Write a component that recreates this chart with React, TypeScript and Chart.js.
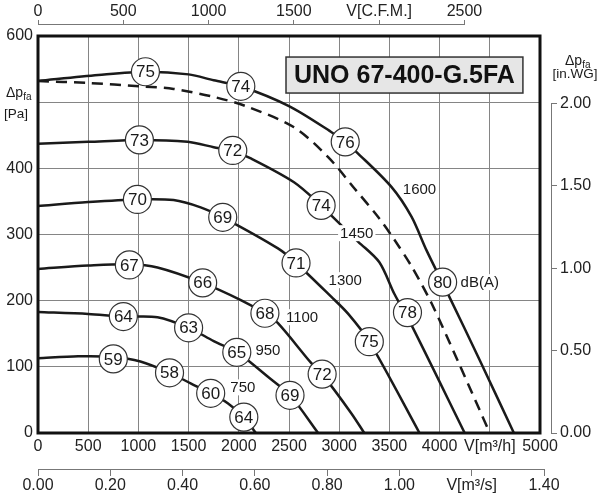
import { useEffect, useRef } from "react";
import { Chart, registerables } from "chart.js";

Chart.register(...registerables);

const FONT = "'Liberation Sans', Arial, Helvetica, sans-serif";
const INK = "#1a1a1a";
const GRID = "#858585";
const AXIS = "#777";

// fan curves: flow [m3/h] vs pressure [Pa]
const FLOW_1600 = [0, 600, 1070, 1500, 1750, 2020, 2500, 2920, 3060, 3170, 3520, 3720, 3870, 4090, 4400, 4740];
const PA_1600 = [532, 541, 546, 542, 533, 524, 494, 455, 440, 425, 372, 327, 276, 208, 110, 0];
const FLOW_LIMIT = [0, 500, 1020, 1350, 1750, 2070, 2550, 2890, 3150, 3390, 3550, 3720, 3920, 4190, 4500];
const PA_LIMIT = [532, 529, 524, 520, 508, 494, 462, 417, 370, 326, 292, 252, 196, 106, 0];
const FLOW_1450 = [0, 500, 1030, 1490, 1750, 1940, 2120, 2550, 2820, 2920, 3190, 3400, 3550, 3710, 4250];
const PA_1450 = [437, 440, 443, 440, 432, 426, 415, 379, 344, 329, 289, 258, 210, 166, 0];
const FLOW_1300 = [0, 500, 990, 1350, 1620, 1840, 2390, 2570, 2920, 3090, 3300, 3800];
const PA_1300 = [343, 349, 353, 352, 341, 326, 279, 257, 206, 180, 138, 0];
const FLOW_1100 = [0, 500, 910, 1190, 1640, 2020, 2260, 2390, 2720, 2830, 3120, 3250];
const PA_1100 = [248, 253, 255, 250, 227, 201, 181, 166, 106, 89, 30, 0];
const FLOW_950 = [0, 500, 850, 1190, 1500, 1750, 1980, 2090, 2290, 2510, 2790];
const PA_950 = [183, 180, 176, 175, 159, 139, 122, 110, 85, 57, 0];
const FLOW_750 = [0, 400, 750, 1020, 1310, 1520, 1720, 1890, 2050, 2170];
const PA_750 = [113, 116, 115, 108, 91, 75, 60, 45, 24, 0];

// sound level markers dB(A)
const CIRCLE_FLOW = [1070, 2020, 3060, 4030, 1010, 1940, 2820, 3680, 990, 1840, 2570, 3300, 910, 1640, 2260, 2830, 850, 1500, 1980, 2510, 750, 1310, 1720, 2050];
const CIRCLE_PA = [546, 524, 440, 228, 443, 427, 344, 182, 353, 326, 257, 138, 254, 227, 181, 89, 176, 159, 122, 57, 112, 91, 60, 24];
const CIRCLE_DB = [75, 74, 76, 80, 73, 72, 74, 78, 70, 69, 71, 75, 67, 66, 68, 72, 64, 63, 65, 69, 59, 58, 60, 64];

// rpm labels
const SPEED_TEXT = ["1600", "1450", "1300", "1100", "950", "750", "dB(A)"];
const SPEED_FLOW = [3800, 3175, 3060, 2630, 2290, 2040, 4400];
const SPEED_PA = [369, 302, 231, 175, 125, 69, 228];

const TITLE = "UNO 67-400-G.5FA";
const CFM_TICKS = [0, 500, 1000, 1500, 2000, 2500];
const M3S_TICKS = [0, 0.2, 0.4, 0.6, 0.8, 1.0, 1.2, 1.4];
const INWG_TICKS = [0, 0.5, 1.0, 1.5, 2.0];

const M3H_PER_CFM = 1.69901;
const PA_PER_INWG = 249.089;

const toPts = (xs: number[], ys: number[]) => xs.map((x, i) => ({ x, y: ys[i] }));

const overlay = {
  id: "overlay",
  afterDatasetsDraw(chart: any) {
    const { ctx, chartArea: a, scales } = chart;
    const x = scales.x;
    const y = scales.y;
    ctx.save();
    ctx.textAlign = "center";
    ctx.textBaseline = "middle";

    // numbers in circles
    ctx.font = `17px ${FONT}`;
    ctx.fillStyle = INK;
    chart.getDatasetMeta(0).data.forEach((pt: any, i: number) => {
      ctx.fillText(String(CIRCLE_DB[i]), pt.x, pt.y + 1);
    });

    // speed labels
    ctx.font = `15px ${FONT}`;
    SPEED_TEXT.forEach((t, i) => {
      const px = x.getPixelForValue(SPEED_FLOW[i]);
      const py = y.getPixelForValue(SPEED_PA[i]);
      const w = ctx.measureText(t).width;
      ctx.fillStyle = "#fff";
      ctx.fillRect(px - w / 2 - 2, py - 8, w + 4, 16);
      ctx.fillStyle = INK;
      ctx.fillText(t, px, py + 1);
    });

    // model title box
    ctx.font = `bold 25px ${FONT}`;
    const tw = ctx.measureText(TITLE).width;
    const cx = x.getPixelForValue(3650);
    const cy = y.getPixelForValue(541);
    ctx.fillStyle = "#e6e6e6";
    ctx.fillRect(cx - tw / 2 - 8, cy - 18, tw + 16, 36);
    ctx.lineWidth = 1.5;
    ctx.strokeStyle = "#333";
    ctx.strokeRect(cx - tw / 2 - 8, cy - 18, tw + 16, 36);
    ctx.fillStyle = "#111";
    ctx.fillText(TITLE, cx, cy + 1);

    // frame
    ctx.lineWidth = 3;
    ctx.strokeStyle = "#111";
    ctx.strokeRect(a.left, a.top, a.right - a.left, a.bottom - a.top);
    ctx.restore();
  },
  afterDraw(chart: any) {
    const { ctx, scales } = chart;
    const cfm = scales.cfm;
    const m3s = scales.m3s;
    const inwg = scales.inwg;
    ctx.save();
    ctx.strokeStyle = AXIS;
    ctx.lineWidth = 1;
    ctx.beginPath();
    ctx.moveTo(cfm.getPixelForValue(0), Math.round(cfm.bottom) - 0.5);
    ctx.lineTo(cfm.getPixelForValue(2500), Math.round(cfm.bottom) - 0.5);
    ctx.moveTo(m3s.getPixelForValue(0), Math.round(m3s.top) + 0.5);
    ctx.lineTo(m3s.getPixelForValue(1.4), Math.round(m3s.top) + 0.5);
    ctx.moveTo(Math.round(inwg.left) + 0.5, inwg.getPixelForValue(0));
    ctx.lineTo(Math.round(inwg.left) + 0.5, inwg.getPixelForValue(2));
    ctx.stroke();

    // pressure titles
    ctx.fillStyle = INK;
    ctx.textBaseline = "alphabetic";
    ctx.textAlign = "left";
    const dp = (lx: number, by: number) => {
      ctx.font = `14px ${FONT}`;
      ctx.fillText("Δp", lx, by);
      const w = ctx.measureText("Δp").width;
      ctx.font = `10px ${FONT}`;
      ctx.fillText("fa", lx + w, by + 3);
    };
    dp(6, 97);
    ctx.font = `13.5px ${FONT}`;
    ctx.fillText("[Pa]", 4, 118);
    dp(565, 65);
    ctx.textAlign = "center";
    ctx.font = `13.5px ${FONT}`;
    ctx.fillText("[in.WG]", 575, 78);
    ctx.restore();
  },
};

export default function App() {
  const canvasRef = useRef<HTMLCanvasElement>(null);
  const chartRef = useRef<Chart | null>(null);

  useEffect(() => {
    document.body.style.margin = "0";
    if (!canvasRef.current) return;
    const ctx = canvasRef.current.getContext("2d");
    if (!ctx) return;

    const line = (data: { x: number; y: number }[], dashed = false) => ({
      type: "line" as const,
      data,
      borderColor: INK,
      borderWidth: 2.5,
      borderDash: dashed ? [11, 7] : [],
      pointRadius: 0,
      fill: false,
      tension: 0.3,
      order: 1,
    });

    const tickFont = { family: FONT, size: 16 };
    const sideAxis = (extra: any) => ({
      type: "linear",
      border: { display: false },
      ...extra,
    });

    chartRef.current?.destroy();
    chartRef.current = new Chart(ctx, {
      type: "line",
      data: {
        datasets: [
          {
            type: "line",
            data: toPts(CIRCLE_FLOW, CIRCLE_PA),
            showLine: false,
            pointRadius: 14,
            pointBackgroundColor: "#fff",
            pointBorderColor: "#333",
            pointBorderWidth: 1.2,
            order: 0,
          },
          line(toPts(FLOW_1600, PA_1600)),
          line(toPts(FLOW_LIMIT, PA_LIMIT), true),
          line(toPts(FLOW_1450, PA_1450)),
          line(toPts(FLOW_1300, PA_1300)),
          line(toPts(FLOW_1100, PA_1100)),
          line(toPts(FLOW_950, PA_950)),
          line(toPts(FLOW_750, PA_750)),
        ] as any,
      },
      options: {
        responsive: false,
        animation: false,
        events: [],
        layout: { padding: 0 },
        plugins: { legend: { display: false }, tooltip: { enabled: false } },
        scales: {
          x: {
            type: "linear",
            position: "bottom",
            weight: 0,
            min: 0,
            max: 5000,
            afterFit: (s: any) => { s.height = 36; },
            grid: { color: GRID, drawTicks: false },
            border: { display: false },
            ticks: {
              stepSize: 500,
              autoSkip: false,
              maxRotation: 0,
              padding: 4,
              color: "#222",
              font: tickFont,
              callback: (v: any) => (v === 4500 ? "V[m³/h]" : String(v)),
            },
          },
          m3s: sideAxis({
            position: "bottom",
            weight: 1,
            min: 0,
            max: 5000 / 3600,
            afterFit: (s: any) => { s.height = 31; },
            afterBuildTicks: (s: any) => { s.ticks = M3S_TICKS.map((value) => ({ value })); },
            grid: { display: true, drawOnChartArea: false, drawTicks: true, tickLength: 7, color: AXIS },
            ticks: {
              autoSkip: false,
              maxRotation: 0,
              padding: 0,
              color: "#222",
              font: tickFont,
              callback: (v: any) => (v === 1.2 ? "V[m³/s]" : Number(v).toFixed(2)),
            },
          }),
          y: {
            type: "linear",
            position: "left",
            min: 0,
            max: 600,
            afterFit: (s: any) => { s.width = 38; },
            grid: { color: GRID, drawTicks: false },
            border: { display: false },
            ticks: {
              stepSize: 100,
              padding: 5,
              color: "#222",
              font: tickFont,
              callback: (v: any) => (v === 500 ? "" : String(v)),
            },
          },
          gapR: {
            type: "linear",
            position: "right",
            weight: 0,
            afterFit: (s: any) => { s.width = 11; },
            grid: { display: false },
            border: { display: false },
            ticks: { display: false },
          },
          inwg: sideAxis({
            position: "right",
            weight: 1,
            min: 0,
            max: 600 / PA_PER_INWG,
            afterFit: (s: any) => { s.width = 49; },
            afterBuildTicks: (s: any) => { s.ticks = INWG_TICKS.map((value) => ({ value })); },
            grid: { display: true, drawOnChartArea: false, drawTicks: true, tickLength: 6, color: AXIS },
            ticks: {
              autoSkip: false,
              padding: 3,
              color: "#222",
              font: tickFont,
              callback: (v: any) => Number(v).toFixed(2),
            },
          }),
          gapT: {
            type: "linear",
            position: "top",
            weight: 0,
            afterFit: (s: any) => { s.height = 11; },
            grid: { display: false },
            border: { display: false },
            ticks: { display: false },
          },
          cfm: sideAxis({
            position: "top",
            weight: 1,
            min: 0,
            max: 5000 / M3H_PER_CFM,
            afterFit: (s: any) => { s.height = 25; },
            afterBuildTicks: (s: any) => { s.ticks = CFM_TICKS.map((value) => ({ value })); },
            grid: { display: true, drawOnChartArea: false, drawTicks: true, tickLength: 5, color: AXIS },
            ticks: {
              autoSkip: false,
              maxRotation: 0,
              padding: -1,
              color: "#222",
              font: tickFont,
              callback: (v: any) => (v === 2000 ? "V[C.F.M.]" : String(v)),
            },
          }),
        } as any,
      },
      plugins: [overlay],
    });

    return () => chartRef.current?.destroy();
  }, []);

  return (
    <div style={{ width: 600, height: 500, background: "#fff" }}>
      <canvas ref={canvasRef} width={600} height={500} />
    </div>
  );
}
